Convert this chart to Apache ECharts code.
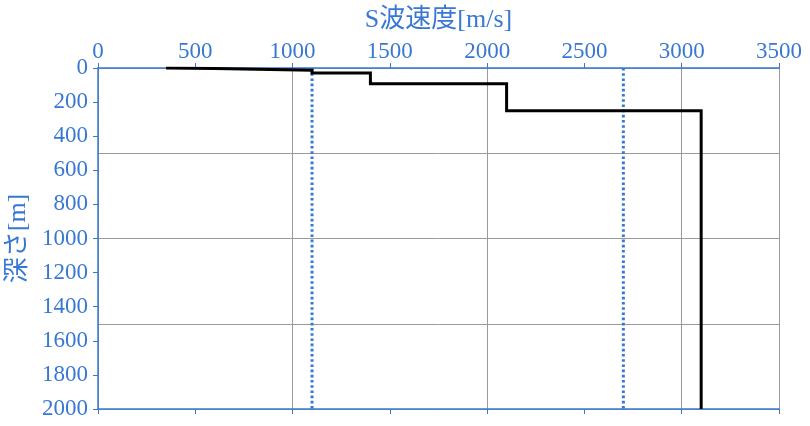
<!DOCTYPE html>
<html>
<head>
<meta charset="utf-8">
<script src="https://cdn.jsdelivr.net/npm/echarts@6/dist/echarts.min.js"></script>
<style>
html,body{margin:0;padding:0;background:#fff;}
#chart{width:810px;height:426px;}
</style>
</head>
<body>
<div id="chart"></div>
<script>
// Layer S-wave velocities [m/s] and layer top depths [m]
const layerVs = [350, 600, 1100, 1400, 2100, 3100];
const layerTop = [0, 3, 13, 30, 92, 250];
const bottomDepth = 2000;
// Reference (dotted) velocities
const refVs = [1100, 2700];
// Axis tick values
const xTicks = [0, 500, 1000, 1500, 2000, 2500, 3000, 3500];
const yTicks = [0, 200, 400, 600, 800, 1000, 1200, 1400, 1600, 1800, 2000];

const BLUE = '#3878d4';
const FONT = '"Liberation Serif", "Noto Sans CJK JP", serif';

// build step profile
const profile = [];
for (let i = 0; i < layerVs.length; i++) {
  const top = layerTop[i];
  const bot = i + 1 < layerTop.length ? layerTop[i + 1] : bottomDepth;
  profile.push([layerVs[i], top]);
  profile.push([layerVs[i], bot]);
}

const gridRect = {left: 98, right: 31, top: 68, bottom: 17, containLabel: false, outerBoundsMode: 'none'};

const series = [
  {
    type: 'line', xAxisIndex: 0, yAxisIndex: 0,
    data: profile, showSymbol: false, symbol: 'none',
    lineStyle: {color: '#000', width: 3, join: 'miter', cap: 'butt'}, z: 5, animation: false
  }
];
refVs.forEach(v => {
  series.push({
    type: 'line', xAxisIndex: 0, yAxisIndex: 0,
    data: [[v, yTicks[0]], [v, yTicks[yTicks.length - 1]]],
    symbol: 'none',
    lineStyle: {color: BLUE, width: 3, type: [2.6, 2.6], cap: 'butt'}, z: 4, animation: false
  });
});

const plain = v => String(v);

const chart = echarts.init(document.getElementById('chart'), null, {renderer: 'canvas'});
chart.setOption({
  animation: false,
  backgroundColor: '#fff',
  grid: [Object.assign({}, gridRect), Object.assign({}, gridRect)],
  xAxis: [
    {
      gridIndex: 0, type: 'value', position: 'top',
      min: xTicks[0], max: xTicks[xTicks.length - 1], interval: 500,
      name: 'S波速度[m/s]', nameLocation: 'middle', nameGap: 35,
      nameTextStyle: {color: BLUE, fontSize: 26, fontFamily: FONT},
      axisLine: {show: true, lineStyle: {color: BLUE, width: 1.5}},
      axisTick: {show: true, length: 5, lineStyle: {color: BLUE}},
      axisLabel: {color: BLUE, fontSize: 23, fontFamily: FONT, margin: 5, formatter: plain},
      splitLine: {show: false}
    },
    {
      gridIndex: 0, type: 'value', position: 'bottom',
      min: xTicks[0], max: xTicks[xTicks.length - 1], interval: 500,
      axisLine: {show: true, lineStyle: {color: BLUE, width: 1.5}},
      axisTick: {show: true, length: 5, lineStyle: {color: BLUE}},
      axisLabel: {show: false},
      splitLine: {show: false}
    },
    {
      gridIndex: 1, type: 'value', position: 'bottom',
      min: 0, max: 3500, interval: 1000,
      axisLine: {show: false}, axisTick: {show: false}, axisLabel: {show: false},
      splitLine: {show: true, lineStyle: {color: '#9a9a9a', width: 1}}
    }
  ],
  yAxis: [
    {
      gridIndex: 0, type: 'value', position: 'left', inverse: true,
      min: yTicks[0], max: yTicks[yTicks.length - 1], interval: 200,
      name: '深さ[m]', nameLocation: 'middle', nameGap: 65,
      nameTextStyle: {color: BLUE, fontSize: 26, fontFamily: FONT},
      axisLine: {show: true, lineStyle: {color: BLUE, width: 1.5}},
      axisTick: {show: true, length: 5, lineStyle: {color: BLUE}},
      axisLabel: {color: BLUE, fontSize: 23, fontFamily: FONT, margin: 10, formatter: plain},
      splitLine: {show: false}
    },
    {
      gridIndex: 1, type: 'value', position: 'left', inverse: true,
      min: 0, max: 2000, interval: 500,
      axisLine: {show: false}, axisTick: {show: false}, axisLabel: {show: false},
      splitLine: {show: true, lineStyle: {color: '#9a9a9a', width: 1}}
    }
  ],
  series: series
});
</script>
</body>
</html>
